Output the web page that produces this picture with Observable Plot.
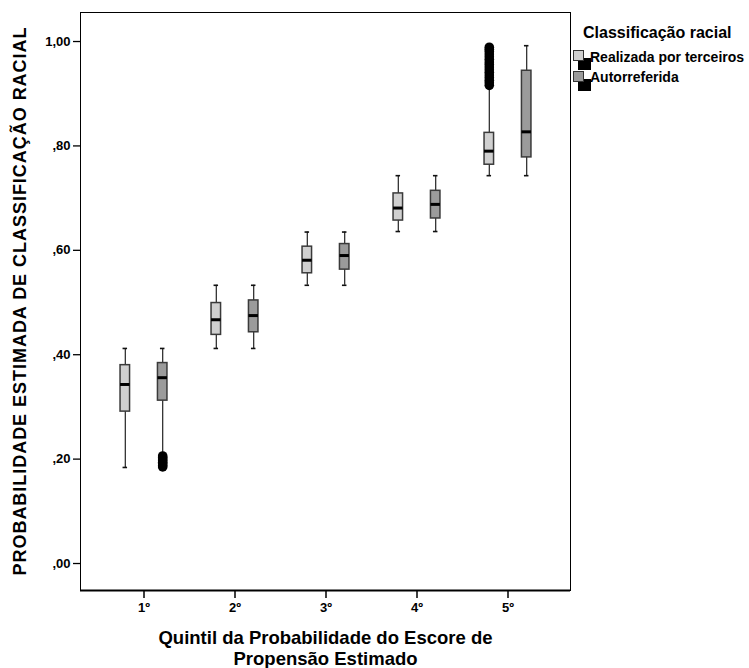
<!DOCTYPE html>
<html><head><meta charset="utf-8">
<script src="https://cdn.jsdelivr.net/npm/d3@7"></script>
<script src="https://cdn.jsdelivr.net/npm/@observablehq/plot@0.6"></script>
<style>
body{margin:0;background:#fff;font-family:"Liberation Sans",Arial,sans-serif;}
#wrap{position:relative;width:749px;height:668px;overflow:hidden;}
#wrap svg text{font-weight:bold;}
.lg{position:absolute;font-weight:bold;color:#000;white-space:nowrap;line-height:1;}
</style></head>
<body><div id="wrap"></div>
<script>
const quintiles = ["1º","2º","3º","4º","5º"];
const seriesNames = ["Realizada por terceiros","Autorreferida"];
const seriesColors = ["#d0d0d0","#9b9b9b"];
// Realizada por terceiros
const lightLo  = [0.184, 0.412, 0.533, 0.636, 0.743];
const lightQ1  = [0.291, 0.438, 0.556, 0.657, 0.764];
const lightMed = [0.343, 0.467, 0.581, 0.681, 0.790];
const lightQ3  = [0.380, 0.499, 0.607, 0.709, 0.825];
const lightHi  = [0.412, 0.533, 0.635, 0.743, 0.912];
// Autorreferida
const darkLo  = [0.212, 0.412, 0.533, 0.636, 0.743];
const darkQ1  = [0.312, 0.443, 0.563, 0.661, 0.778];
const darkMed = [0.356, 0.475, 0.590, 0.688, 0.827];
const darkQ3  = [0.384, 0.504, 0.612, 0.714, 0.944];
const darkHi  = [0.412, 0.533, 0.635, 0.743, 0.992];
// outliers
const lightOutQuintile = "5º";
const lightOut = [0.916,0.921,0.926,0.931,0.936,0.941,0.946,0.951,0.956,0.961,0.966,0.971,0.976,0.981,0.985,0.989];
const darkOutQuintile = "1º";
const darkOut = [0.185,0.188,0.191,0.194,0.197,0.200,0.203,0.206];
const yTicks = [0,0.2,0.4,0.6,0.8,1.0];
const yTickLabels = [",00",",20",",40",",60",",80","1,00"];
const yTitle = "PROBABILIDADE ESTIMADA DE CLASSIFICAÇÃO RACIAL";
const xTitle = "Quintil da Probabilidade do Escore de\nPropensão Estimado";
const legendTitle = "Classificação racial";

const boxes = [];
quintiles.forEach((q,i)=>{
  boxes.push({q, s:0, lo:lightLo[i], q1:lightQ1[i], med:lightMed[i], q3:lightQ3[i], hi:lightHi[i]});
  boxes.push({q, s:1, lo:darkLo[i], q1:darkQ1[i], med:darkMed[i], q3:darkQ3[i], hi:darkHi[i]});
});
const outs = [
  ...lightOut.map(v=>({q:lightOutQuintile, s:0, v})),
  ...darkOut.map(v=>({q:darkOutQuintile, s:1, v}))
];

const W=749,H=668, mL=80, mR=179, mT=12, mB=78;
const po = 0.178;
const bw = (W-mL-mR)/(quintiles.length+2*po);
const off = 18.7;
const boxIn = (bw-10)/2, capIn = (bw-5)/2;

const marks = [];
[0,1].forEach(s=>{
  const b = boxes.filter(d=>d.s===s);
  const o = outs.filter(d=>d.s===s);
  const dx = s===0 ? -off : off;
  marks.push(
    Plot.ruleX(b,{x:"q", y1:"lo", y2:"hi", dx, stroke:"#222", strokeWidth:1.2}),
    Plot.tickY(b,{x:"q", y:"lo", dx, insetLeft:capIn, insetRight:capIn, stroke:"#111", strokeWidth:1.6}),
    Plot.tickY(b,{x:"q", y:"hi", dx, insetLeft:capIn, insetRight:capIn, stroke:"#111", strokeWidth:1.6}),
    Plot.barY(b,{x:"q", y1:"q1", y2:"q3", dx, insetLeft:boxIn, insetRight:boxIn, fill:seriesColors[s], stroke:"#3a3a3a", strokeWidth:1.5}),
    Plot.tickY(b,{x:"q", y:"med", dx, insetLeft:boxIn, insetRight:boxIn, stroke:"#000", strokeWidth:3}),
    Plot.dot(o,{x:"q", y:"v", dx, r:4.8, fill:"#000", stroke:"none"})
  );
});

const chart = Plot.plot({
  width:W, height:H,
  marginLeft:mL, marginRight:mR, marginTop:mT, marginBottom:mB,
  style:{fontFamily:"'Liberation Sans', Arial, sans-serif", fontSize:"13px", color:"#000", background:"#fff"},
  x:{type:"band", domain:quintiles, paddingInner:0, paddingOuter:po, align:0.5, label:null},
  y:{domain:[-0.0517,1.0556], label:null},
  marks:[
    Plot.frame({stroke:"#000", strokeWidth:1}),
    Plot.axisY({ticks:yTicks, tickFormat:(d)=>yTickLabels[yTicks.indexOf(d)], tickSize:7, tickPadding:3, label:null, fontSize:13, fontWeight:"bold", strokeWidth:1.3}),
    Plot.axisX({tickSize:8, tickPadding:4, label:null, fontSize:13, fontWeight:"bold", strokeWidth:1.5}),
    Plot.ruleY([-0.0517],{stroke:"#000", strokeWidth:2}),
    ...marks,
    Plot.text([yTitle],{frameAnchor:"left", dx:-60, rotate:-90, textAnchor:"middle", fontSize:18, fontWeight:"bold", fill:"#000"}),
    Plot.text([xTitle],{frameAnchor:"bottom", dy:57, lineAnchor:"middle", lineHeight:1.15, fontSize:18.5, fontWeight:"bold", fill:"#000"})
  ]
});
const wrap = document.getElementById("wrap");
wrap.appendChild(chart);
// stretch the y title to the reference's letter spacing
chart.querySelectorAll("text").forEach(t=>{
  if (t.textContent === yTitle) { t.setAttribute("textLength","548"); t.setAttribute("lengthAdjust","spacing"); }
});

// legend
function el(style, text){const d=document.createElement("div");d.className="lg";Object.assign(d.style,style);if(text)d.textContent=text;wrap.appendChild(d);return d;}
el({left:"583px", top:"25px", fontSize:"16px"}, legendTitle);
seriesNames.forEach((n,i)=>{
  const top = 50 + i*20.5;
  el({left:"578px", top:(top+8)+"px", width:"13px", height:"12px", background:"#000"});
  el({left:"573px", top:top+"px", width:"9px", height:"9px", background:seriesColors[i], border:"1px solid #333"});
  el({left:"590px", top:(top-0.5)+"px", fontSize:"14px"}, n);
});
</script></body></html>
